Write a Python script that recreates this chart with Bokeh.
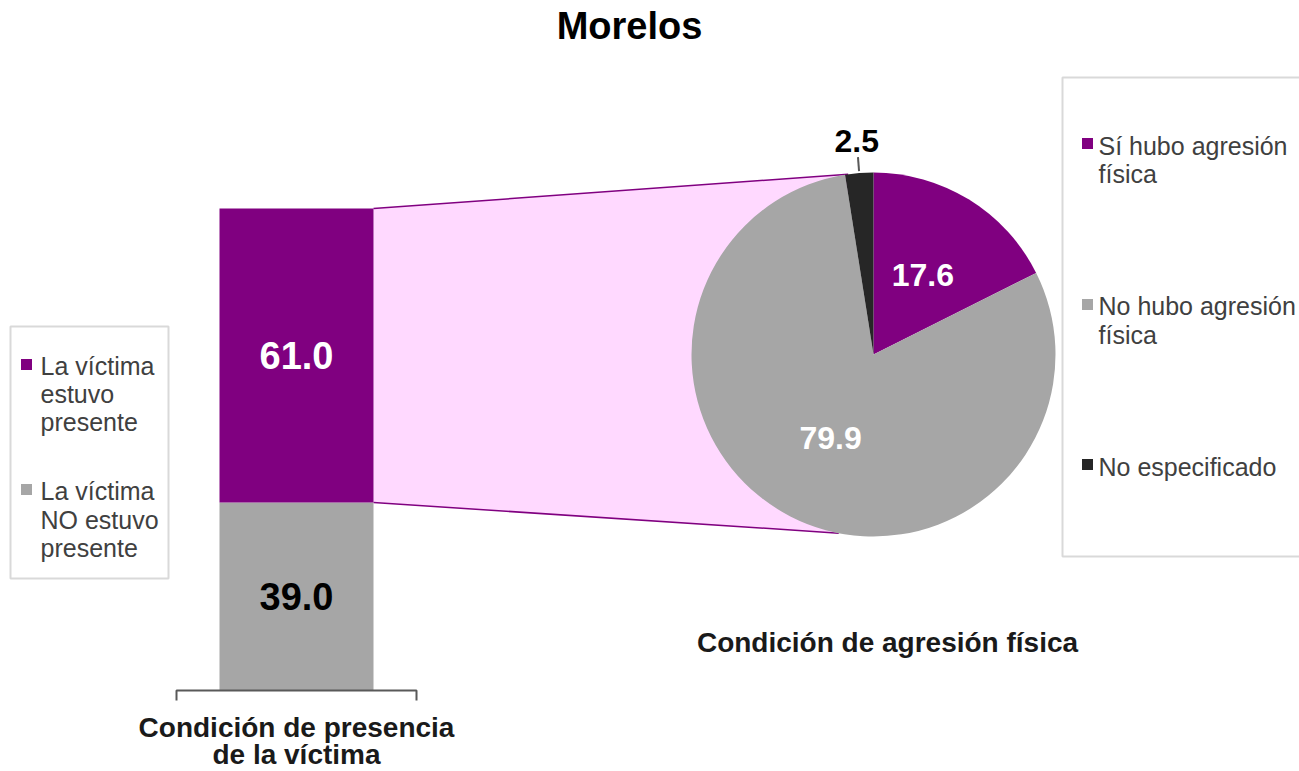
import math
from bokeh.plotting import figure
from bokeh.models import Range1d
from bokeh.core.properties import value
from bokeh.embed import file_html
from bokeh.resources import INLINE

# ---------------- data ----------------
title = "Morelos"
bar_categories = ["La víctima NO estuvo presente", "La víctima estuvo presente"]  # bottom -> top
bar_values = [39.0, 61.0]
bar_colors = ["#A6A6A6", "#800080"]
bar_label_colors = ["#000000", "#FFFFFF"]
bar_axis_title = ["Condición de presencia", "de la víctima"]
bar_legend_lines = [["La víctima", "estuvo", "presente"], ["La víctima", "NO estuvo", "presente"]]
bar_legend_colors = ["#800080", "#A6A6A6"]

pie_categories = ["Sí hubo agresión física", "No hubo agresión física", "No especificado"]
pie_values = [17.6, 79.9, 2.5]
pie_colors = ["#800080", "#A6A6A6", "#262626"]
pie_label_colors = ["#FFFFFF", "#FFFFFF", "#000000"]
pie_legend_lines = [["Sí hubo agresión", "física"], ["No hubo agresión", "física"], ["No especificado"]]
pie_axis_title = "Condición de agresión física"

FONT = value("Liberation Sans")

# ---------------- layout helpers ----------------
W, H = 1299, 771
BASE_PX = 690.0      # pixel row of value 0 of the bar
PX_PER_UNIT = 4.82   # pixels per percentage point


def Y(py):
    return (BASE_PX - py) / PX_PER_UNIT


p = figure(width=W, height=H, x_range=Range1d(0, W), y_range=Range1d(Y(H), Y(0)),
           output_backend="svg", toolbar_location=None, x_axis_type=None, y_axis_type=None,
           min_border=0)
p.outline_line_color = None
p.background_fill_color = "white"

# legend boxes
p.quad(left=[10], right=[168], top=[Y(326)], bottom=[Y(578)], fill_color="white",
       line_color="#D9D9D9", line_width=2)
p.quad(left=[1062], right=[1340], top=[Y(77)], bottom=[Y(556)], fill_color="white",
       line_color="#D9D9D9", line_width=2)

# stacked bar
bar_x0, bar_x1 = 219, 373
bottoms, tops = [], []
acc = 0.0
for v in bar_values:
    bottoms.append(acc)
    acc += v
    tops.append(acc)

# pie geometry
cx, cy, R = 873.0, 354.0, 182.0
total = sum(pie_values)
starts, ends = [], []
c = 0.0
for v in pie_values:
    a0 = math.pi / 2 - 2 * math.pi * c / total
    c += v
    a1 = math.pi / 2 - 2 * math.pi * c / total
    starts.append(a1)
    ends.append(a0)

# connector (pink band) from the top segment to the pie
ta = math.radians(98)
ba = math.radians(-101)
tx, ty = cx + R * math.cos(ta), cy - R * math.sin(ta)
bx, by = cx + R * math.cos(ba), cy - R * math.sin(ba)
p.patch(x=[bar_x1, tx, bx, bar_x1], y=[tops[-1], Y(ty), Y(by), bottoms[-1]],
        fill_color="#FFD9FF", line_color=None)
p.line(x=[bar_x1, tx], y=[tops[-1], Y(ty)], line_color="#800080", line_width=1.5)
p.line(x=[bar_x1, bx], y=[bottoms[-1], Y(by)], line_color="#800080", line_width=1.5)

p.quad(left=[bar_x0] * len(bar_values), right=[bar_x1] * len(bar_values),
       bottom=bottoms, top=tops, fill_color=bar_colors, line_color=None)

# bar axis
p.line(x=[176, 176, 416, 416], y=[Y(700), 0, 0, Y(700)], line_color="#595959", line_width=2)

# bar labels
p.text(x=[(bar_x0 + bar_x1) / 2] * len(bar_values),
       y=[(b + t) / 2 for b, t in zip(bottoms, tops)],
       text=[f"{v:.1f}" for v in bar_values], text_color=bar_label_colors,
       text_font=FONT, text_font_style="bold", text_font_size="38px",
       text_align="center", text_baseline="middle")

# pie
p.wedge(x=[cx] * 3, y=[Y(cy)] * 3, radius=R, radius_units="screen",
        start_angle=starts, end_angle=ends, fill_color=pie_colors, line_color=None)

# pie labels
lx, ly = [], []
for i, (s, e) in enumerate(zip(starts, ends)):
    mid = (s + e) / 2
    r = 94 if i < 2 else 214
    lx.append(cx + r * math.cos(mid))
    ly.append(Y(cy - r * math.sin(mid)))
    if i == 2:
        p.line(x=[cx + 184 * math.cos(mid), cx + 198 * math.cos(mid)],
               y=[Y(cy - 184 * math.sin(mid)), Y(cy - 198 * math.sin(mid))],
               line_color="#595959", line_width=2)
p.text(x=lx, y=ly, text=[f"{v:.1f}" for v in pie_values], text_color=pie_label_colors,
       text_font=FONT, text_font_style="bold", text_font_size="32px",
       text_align="center", text_baseline="middle")

# title and axis titles
p.text(x=[629], y=[Y(25)], text=[title], text_color="#000000", text_font=FONT,
       text_font_style="bold", text_font_size="38px", text_align="center",
       text_baseline="middle")
p.text(x=[296, 296], y=[Y(727), Y(754)], text=bar_axis_title, text_color="#1A1A1A",
       text_font=FONT, text_font_style="bold", text_font_size="28px",
       text_align="center", text_baseline="middle")
p.text(x=[887], y=[Y(642)], text=[pie_axis_title], text_color="#1A1A1A",
       text_font=FONT, text_font_style="bold", text_font_size="28px",
       text_align="center", text_baseline="middle")

# legends
left_marker_y = [364, 489]
left_line_y = [[365, 393, 421], [490, 519, 547]]
p.scatter(x=[26, 26], y=[Y(v) for v in left_marker_y], marker="square", size=11,
          fill_color=bar_legend_colors, line_color=None)
for lines, ys in zip(bar_legend_lines, left_line_y):
    p.text(x=[40] * len(lines), y=[Y(v) for v in ys], text=lines, text_color="#404040",
           text_font=FONT, text_font_size="25px", text_align="left", text_baseline="middle")

right_marker_y = [143, 304, 464]
right_line_y = [[145, 173], [305, 334], [466]]
p.scatter(x=[1087] * 3, y=[Y(v) for v in right_marker_y], marker="square", size=11,
          fill_color=pie_colors, line_color=None)
for lines, ys in zip(pie_legend_lines, right_line_y):
    p.text(x=[1098] * len(lines), y=[Y(v) for v in ys], text=lines, text_color="#404040",
           text_font=FONT, text_font_size="25px", text_align="left", text_baseline="middle")

open("out.html", "w").write(file_html(p, INLINE))
